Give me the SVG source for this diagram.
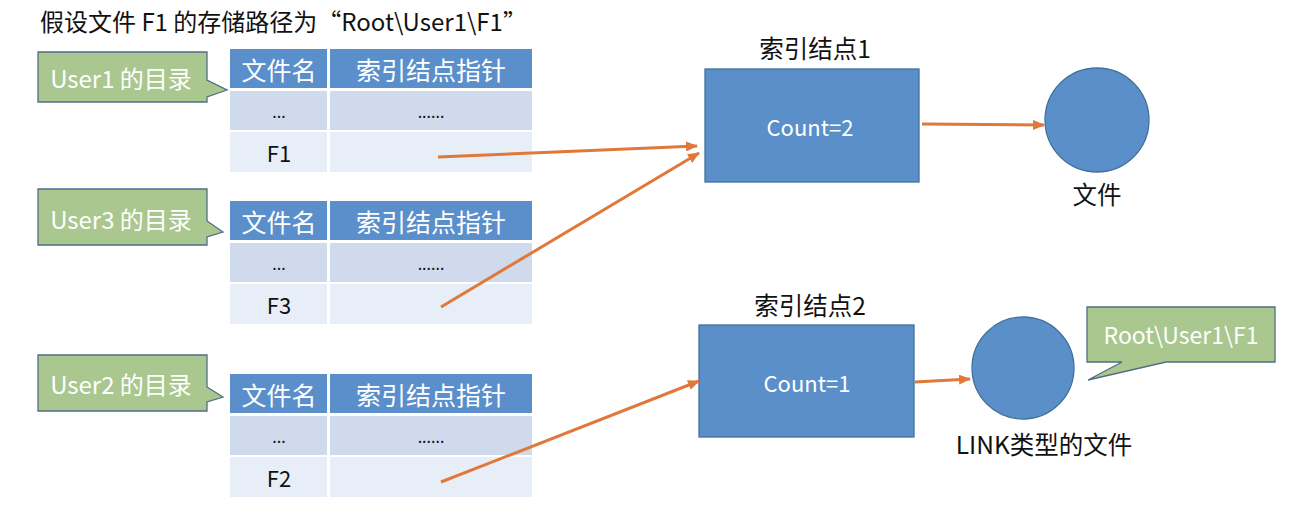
<svg xmlns="http://www.w3.org/2000/svg" width="1309" height="519" viewBox="0 0 1309 519">
<style>
  text { font-family: "Noto Sans CJK SC", "Noto Sans", sans-serif; }
  .hdr { fill: #5B8FCB; }
  .r1 { fill: #CFDAEC; }
  .r2 { fill: #E8EEF7; }
  .ht { fill: #ffffff; font-size: 25px; text-anchor: middle; dominant-baseline: central; }
  .ct { fill: #111111; font-size: 22px; text-anchor: middle; dominant-baseline: central; }
  .dots { fill: #111111; font-size: 16px; text-anchor: middle; dominant-baseline: central; }
  .callout { fill: #A9C78E; stroke: #4F6F88; stroke-width: 1.3; }
  .cot { fill: #ffffff; font-size: 24px; text-anchor: middle; dominant-baseline: central; }
  .node { fill: #5B8FC9; stroke: #41719C; stroke-width: 1.3; }
  .nt { fill: #ffffff; font-size: 22px; text-anchor: middle; dominant-baseline: central; }
  .lbl { fill: #111111; font-size: 24.5px; text-anchor: middle; dominant-baseline: central; }
  .conn { stroke: #E0783A; stroke-width: 3; fill: none; marker-end: url(#ah); }
</style>
<defs>
  <marker id="ah" markerUnits="userSpaceOnUse" markerWidth="12" markerHeight="10" refX="11" refY="5" orient="auto">
    <path d="M0,0 L12,5 L0,10 Z" fill="#E0783A"/>
  </marker>
</defs>
<rect width="1309" height="519" fill="#ffffff"/>

<text id="title" x="40" y="20" font-size="24" fill="#111111" dominant-baseline="central">假设文件 F1 的存储路径为“Root\User1\F1”</text>

<g id="callout-user1">
  <path class="callout" d="M38,52 H207 V80 L227,90 L207,97 V102 H38 Z"/>
  <text class="cot" x="121" y="77">User1 的目录</text>
</g>
<g id="table-user1" transform="translate(0,49)">
  <rect class="hdr" x="230" y="0" width="97" height="39"/>
  <rect class="hdr" x="330" y="0" width="202" height="39"/>
  <rect class="r1" x="230" y="42" width="97" height="39"/>
  <rect class="r1" x="330" y="42" width="202" height="39"/>
  <rect class="r2" x="230" y="83" width="97" height="40"/>
  <rect class="r2" x="330" y="83" width="202" height="40"/>
  <text class="ht" x="279" y="19.5">文件名</text>
  <text class="ht" x="431" y="19.5">索引结点指针</text>
  <text class="dots" x="279" y="62">...</text>
  <text class="dots" x="431" y="62">......</text>
  <text class="ct" x="279" y="103">F1</text>
</g>

<g id="callout-user3">
  <path class="callout" d="M38,189 H207 V221 L223,232 L207,237 V245 H38 Z"/>
  <text class="cot" x="121" y="218">User3 的目录</text>
</g>
<g id="table-user3" transform="translate(0,201)">
  <rect class="hdr" x="230" y="0" width="97" height="39"/>
  <rect class="hdr" x="330" y="0" width="202" height="39"/>
  <rect class="r1" x="230" y="42" width="97" height="39"/>
  <rect class="r1" x="330" y="42" width="202" height="39"/>
  <rect class="r2" x="230" y="83" width="97" height="40"/>
  <rect class="r2" x="330" y="83" width="202" height="40"/>
  <text class="ht" x="279" y="19.5">文件名</text>
  <text class="ht" x="431" y="19.5">索引结点指针</text>
  <text class="dots" x="279" y="62">...</text>
  <text class="dots" x="431" y="62">......</text>
  <text class="ct" x="279" y="103">F3</text>
</g>

<g id="callout-user2">
  <path class="callout" d="M38,355 H207 V387 L223,397 L207,402 V411 H38 Z"/>
  <text class="cot" x="121" y="383">User2 的目录</text>
</g>
<g id="table-user2" transform="translate(0,374)">
  <rect class="hdr" x="230" y="0" width="97" height="39"/>
  <rect class="hdr" x="330" y="0" width="202" height="39"/>
  <rect class="r1" x="230" y="42" width="97" height="39"/>
  <rect class="r1" x="330" y="42" width="202" height="39"/>
  <rect class="r2" x="230" y="83" width="97" height="40"/>
  <rect class="r2" x="330" y="83" width="202" height="40"/>
  <text class="ht" x="279" y="19.5">文件名</text>
  <text class="ht" x="431" y="19.5">索引结点指针</text>
  <text class="dots" x="279" y="62">...</text>
  <text class="dots" x="431" y="62">......</text>
  <text class="ct" x="279" y="103">F2</text>
</g>

<g id="inode1">
  <text class="lbl" x="815" y="47">索引结点1</text>
  <rect class="node" x="705" y="69" width="214" height="113"/>
  <text class="nt" x="810" y="126">Count=2</text>
</g>
<g id="file1">
  <circle class="node" cx="1097" cy="120" r="52"/>
  <text class="lbl" x="1097" y="193">文件</text>
</g>

<g id="inode2">
  <text class="lbl" x="810" y="304">索引结点2</text>
  <rect class="node" x="699" y="325" width="215" height="112"/>
  <text class="nt" x="807" y="382">Count=1</text>
</g>
<g id="linkfile">
  <circle class="node" cx="1023" cy="368" r="51"/>
  <text class="lbl" x="1044" y="443">LINK类型的文件</text>
</g>
<g id="callout-link">
  <path class="callout" d="M1087,307 H1275 V362 H1166 L1088,380 L1122,362 H1087 Z"/>
  <text class="cot" x="1181" y="334" style="font-size:23px">Root\User1\F1</text>
</g>

<g id="connectors">
  <line class="conn" x1="438" y1="157" x2="697" y2="146"/>
  <line class="conn" x1="441" y1="307" x2="699" y2="153"/>
  <line class="conn" x1="441" y1="482" x2="699" y2="381"/>
  <line class="conn" x1="922" y1="124" x2="1044" y2="125"/>
  <line class="conn" x1="915" y1="382" x2="970" y2="379"/>
</g>
</svg>
